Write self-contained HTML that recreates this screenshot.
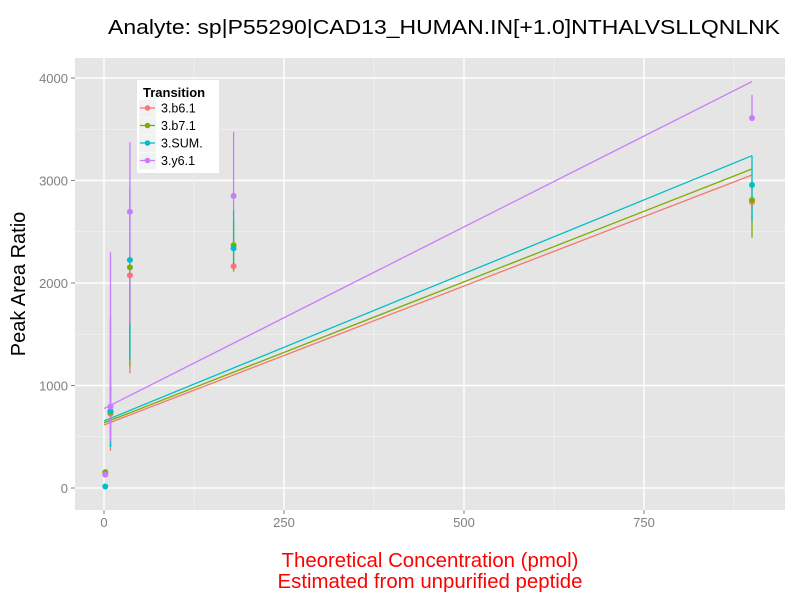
<!DOCTYPE html>
<html><head><meta charset="utf-8"><style>
body{margin:0;background:#fff;font-family:"Liberation Sans",sans-serif}
</style></head><body>
<svg id="chart" width="800" height="600" xmlns="http://www.w3.org/2000/svg">
<text x="108" y="34" font-size="20" textLength="672" lengthAdjust="spacingAndGlyphs" fill="#000">Analyte: sp|P55290|CAD13_HUMAN.IN[+1.0]NTHALVSLLQNLNK</text>
<rect x="75" y="58" width="710" height="452" fill="#e5e5e5"/>
<g id="grid"></g>
<g id="lines"></g>
<g id="points"></g>
<g id="axes"></g>
<text transform="translate(25,284) rotate(-90)" font-size="20" text-anchor="middle">Peak Area Ratio</text>
<text x="430" y="567" font-size="20.4" text-anchor="middle" fill="#ff0000">Theoretical Concentration (pmol)</text>
<text x="430" y="588" font-size="20.4" text-anchor="middle" fill="#ff0000">Estimated from unpurified peptide</text>
<g>
<rect x="137" y="80" width="82" height="93" fill="#fff"/>
<text x="143" y="97" font-size="13" font-weight="bold">Transition</text>
<g id="legend"></g>
</g>
</svg>
<script>
const series = ["3.b6.1","3.b7.1","3.SUM.","3.y6.1"];
const colors = ["#f8766d","#7cae00","#00bfc4","#c77cff"];
const concentrations = [1.8, 9, 36, 180, 900];
const b6Values = [140, 725, 2075, 2165, 2790];
const b7Values = [155, 740, 2153, 2368, 2810];
const sumValues = [15, 750, 2225, 2338, 2956];
const y6Values = [130, 793, 2695, 2850, 3610];
const b6Low = [120, 365, 1120, 2110, 2750];
const b6High = [160, 1000, 2150, 2200, 2830];
const b7Low = [130, 400, 1185, 2120, 2440];
const b7High = [175, 1100, 2250, 2600, 3000];
const sumLow = [5, 400, 1250, 2150, 2600];
const sumHigh = [30, 1680, 2950, 2710, 3242];
const y6Low = [110, 450, 1610, 2710, 3600];
const y6High = [150, 2300, 3375, 3475, 3835];
const fitIntercepts = [615, 635, 654, 775];
const fitEnds = [3054, 3112, 3242, 3965];
const xTicks = [0, 250, 500, 750];
const yTicks = [0, 1000, 2000, 3000, 4000];

const X = v => 104 + v * 0.72;
const Y = v => 488 - v * 0.1025;
const NS = "http://www.w3.org/2000/svg";
function mk(parent, tag, attrs){const e=document.createElementNS(NS,tag);for(const k in attrs)e.setAttribute(k,attrs[k]);document.getElementById(parent).appendChild(e);return e;}

for (let i=0;i<yTicks.length;i++){
  if(i<yTicks.length-1){const m=(yTicks[i]+yTicks[i+1])/2;const g=mk("grid","line",{x1:75,x2:785,y1:Y(m),y2:Y(m),stroke:"#f2f2f2","stroke-width":0.7});
  
  }
  const l=mk("grid","line",{x1:75,x2:785,y1:Y(yTicks[i]),y2:Y(yTicks[i]),stroke:"#fff","stroke-width":1.4});
  
  
  const t=mk("axes","text",{x:68,y:Y(yTicks[i])+5,"font-size":13,"text-anchor":"end",fill:"#7f7f7f"});
  t.textContent=yTicks[i];
  
  
  mk("axes","line",{x1:71,x2:75,y1:Y(yTicks[i]),y2:Y(yTicks[i]),stroke:"#7f7f7f"});
}
for (let i=0;i<xTicks.length;i++){
  const m=xTicks[i]+125;const g=mk("grid","line",{x1:X(m),x2:X(m),y1:58,y2:510,stroke:"#f2f2f2","stroke-width":0.7});
  
  
  const l=mk("grid","line",{x1:X(xTicks[i]),x2:X(xTicks[i]),y1:58,y2:510,stroke:"#fff","stroke-width":1.4});
  
  
  const t=mk("axes","text",{x:X(xTicks[i]),y:527,"font-size":13,"text-anchor":"middle",fill:"#7f7f7f"});
  t.textContent=xTicks[i];
  
  
  mk("axes","line",{x1:X(xTicks[i]),x2:X(xTicks[i]),y1:510,y2:514,stroke:"#7f7f7f"});
}
const xmax = concentrations[concentrations.length-1];
for (let s=0;s<series.length;s++){
  const l=mk("lines","line",{x1:X(0),y1:Y(fitIntercepts[s]),x2:X(xmax),y2:Y(fitEnds[s]),stroke:colors[s],"stroke-width":1.3});
  
  
}
const vals=[b6Values,b7Values,sumValues,y6Values], lows=[b6Low,b7Low,sumLow,y6Low], highs=[b6High,b7High,sumHigh,y6High];
for (let s=0;s<series.length;s++){
  for (let i=0;i<concentrations.length;i++){
    const e=mk("points","line",{x1:X(concentrations[i]),x2:X(concentrations[i]),y1:Y(lows[s][i]),y2:Y(highs[s][i]),stroke:colors[s],"stroke-width":1.3});
    
    
  }
}
for (let s=0;s<series.length;s++){
  for (let i=0;i<concentrations.length;i++){
    const c=mk("points","circle",{cx:X(concentrations[i]),cy:Y(vals[s][i]),r:3,fill:colors[s]});
    
    
  }
}
for (let s=0;s<series.length;s++){
  const y=108+s*17.5;
  mk("legend","rect",{x:139,y:y-8,width:17,height:17,fill:"#f2f2f2"});
  mk("legend","line",{x1:140,x2:155,y1:y,y2:y,stroke:colors[s],"stroke-width":1.3});
  mk("legend","circle",{cx:147.5,cy:y,r:2.8,fill:colors[s]});
  const t=mk("legend","text",{x:161,y:y+4.5,"font-size":12.5});
  t.textContent=series[s];
  
  
}
</script>
</body></html>
